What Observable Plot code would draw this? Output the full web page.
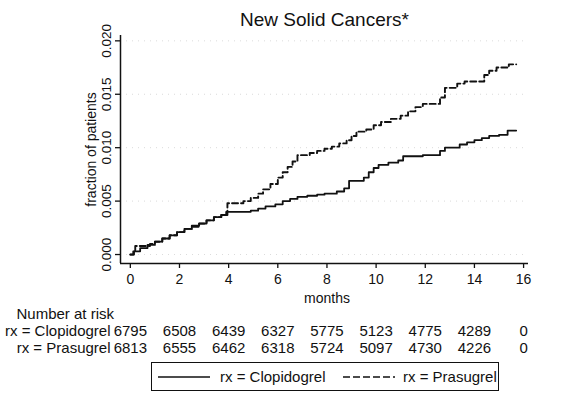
<!DOCTYPE html>
<html><head><meta charset="utf-8">
<script src="https://cdn.jsdelivr.net/npm/d3@7"></script>
<script src="https://cdn.jsdelivr.net/npm/@observablehq/plot@0.6"></script>
<style>
body{margin:0;background:#fff;font-family:"Liberation Sans",Arial,sans-serif;}
#wrap{position:relative;width:573px;height:398px;overflow:hidden;}
#legend{position:absolute;left:151px;top:362px;width:346px;height:27px;border:1.5px solid #111;font-size:15px;color:#111;}
#legend .it{position:absolute;top:0;height:27px;line-height:27px;white-space:nowrap;}
#legend svg{position:absolute;top:0;}
</style>
</head><body>
<div id="wrap"><div id="chart"></div><div id="legend"></div></div>
<script>
const title = "New Solid Cancers*";
const seriesNames = ["rx = Clopidogrel", "rx = Prasugrel"];
const xTicks = [0, 2, 4, 6, 8, 10, 12, 14, 16];
const yTicks = [0, 0.005, 0.010, 0.015, 0.020];
const riskMonths = [0, 2, 4, 6, 8, 10, 12, 14, 16];
const riskClop = [6795, 6508, 6439, 6327, 5775, 5123, 4775, 4289, 0];
const riskPras = [6813, 6555, 6462, 6318, 5724, 5097, 4730, 4226, 0];

const clopMonths = [0, 0.15, 0.4, 0.7, 1.0, 1.3, 1.6, 1.9, 2.2, 2.5, 2.8, 3.1, 3.4, 3.7, 3.9, 4.9, 5.2, 5.5, 5.9, 6.2, 6.5, 6.8, 7.2, 7.6, 7.9, 8.4, 8.7, 8.9, 9.5, 9.7, 9.9, 10.1, 10.5, 10.9, 11.1, 11.9, 12.6, 12.8, 13.4, 13.7, 14.0, 14.3, 14.6, 15.0, 15.35, 15.7];
const clopRisk = [0, 0.0003, 0.0006, 0.0009, 0.0012, 0.0015, 0.0018, 0.0021, 0.0024, 0.0027, 0.0029, 0.0032, 0.0035, 0.0037, 0.0040, 0.0041, 0.0043, 0.0045, 0.0047, 0.0050, 0.0052, 0.0054, 0.0055, 0.0056, 0.0057, 0.0059, 0.0062, 0.0069, 0.0072, 0.0077, 0.0081, 0.0084, 0.0086, 0.0088, 0.0092, 0.0093, 0.0097, 0.0100, 0.0103, 0.0105, 0.0107, 0.0109, 0.0111, 0.0112, 0.0116, 0.0116];

const prasMonths = [0, 0.12, 0.2, 0.5, 0.8, 1.0, 1.3, 1.6, 1.9, 2.2, 2.5, 2.8, 3.1, 3.4, 3.7, 3.95, 4.6, 4.9, 5.2, 5.4, 5.7, 6.0, 6.2, 6.4, 6.6, 6.8, 7.3, 7.6, 7.9, 8.2, 8.5, 8.8, 9.0, 9.2, 9.6, 9.9, 10.2, 10.6, 11.0, 11.3, 11.6, 11.9, 12.6, 12.8, 13.3, 13.6, 14.4, 14.6, 14.9, 15.4, 15.7];
const prasRisk = [0, 0.0004, 0.0008, 0.0008, 0.0010, 0.0012, 0.0015, 0.0018, 0.0021, 0.0024, 0.0026, 0.0029, 0.0032, 0.0035, 0.0037, 0.0048, 0.0050, 0.0053, 0.0057, 0.0061, 0.0066, 0.0072, 0.0077, 0.0082, 0.0087, 0.0093, 0.0095, 0.0097, 0.0099, 0.0101, 0.0104, 0.0107, 0.0111, 0.0115, 0.0117, 0.0121, 0.0124, 0.0127, 0.0130, 0.0134, 0.0138, 0.0141, 0.0147, 0.0156, 0.0160, 0.0162, 0.0168, 0.0172, 0.0175, 0.0178, 0.0178];

const clop = clopMonths.map((m, i) => ({m, v: clopRisk[i]}));
const pras = prasMonths.map((m, i) => ({m, v: prasRisk[i]}));
const xDom = [-0.4, 16.2];
const yDom = [-0.00084, 0.0205];
const ink = "#111";
const fmt = d3.format(".3f");

const rowClop = riskMonths.map((m, i) => ({m, t: String(riskClop[i])}));
const rowPras = riskMonths.map((m, i) => ({m, t: String(riskPras[i])}));

const chart = Plot.plot({
  width: 573, height: 360,
  marginLeft: 120, marginRight: 45, marginTop: 35, marginBottom: 97,
  style: {fontFamily: '"Liberation Sans", Arial, sans-serif', fontSize: "14px", color: ink, background: "#fff"},
  x: {domain: xDom},
  y: {domain: yDom},
  marks: [
    Plot.gridY(yTicks, {stroke: "#999", strokeOpacity: 0.35, strokeDasharray: "1,5"}),
    Plot.ruleX([xDom[0]], {stroke: ink, strokeWidth: 1.5}),
    Plot.ruleY([yDom[0]], {stroke: ink, strokeWidth: 1.5}),
    Plot.axisX({ticks: xTicks, tickSize: 5, tickPadding: 6, label: null, fontSize: 14, stroke: ink, strokeWidth: 1.3}),
    Plot.axisY({ticks: yTicks, tickSize: 5, tickFormat: () => "", label: null, stroke: ink, strokeWidth: 1.3}),
    Plot.text(yTicks, {y: d => d, text: d => fmt(d), frameAnchor: "left", dx: -10, rotate: -90, textAnchor: "middle", lineAnchor: "bottom", fontSize: 13.5, fill: ink}),
    Plot.text(["fraction of patients"], {frameAnchor: "left", dx: -25, rotate: -90, textAnchor: "middle", lineAnchor: "bottom", fontSize: 14, fill: ink}),
    Plot.text(["months"], {x: () => 8, frameAnchor: "bottom", dy: 35, lineAnchor: "middle", fontSize: 14, fill: ink}),
    Plot.text([title], {frameAnchor: "top", dy: -16, lineAnchor: "middle", fontSize: 19, fill: ink}),
    Plot.line(clop, {x: "m", y: "v", curve: "step-after", stroke: ink, strokeWidth: 1.8}),
    Plot.line(pras, {x: "m", y: "v", curve: "step-after", stroke: ink, strokeWidth: 1.9, strokeDasharray: "6,3"}),
    Plot.text(["Number at risk"], {frameAnchor: "bottom-left", dx: -104, dy: 51, textAnchor: "start", lineAnchor: "middle", fontSize: 15, fill: ink}),
    Plot.text([seriesNames[0]], {frameAnchor: "bottom-left", dx: -10, dy: 68, textAnchor: "end", lineAnchor: "middle", fontSize: 15, fill: ink}),
    Plot.text([seriesNames[1]], {frameAnchor: "bottom-left", dx: -10, dy: 85, textAnchor: "end", lineAnchor: "middle", fontSize: 15, fill: ink}),
    Plot.text(rowClop, {x: "m", text: "t", frameAnchor: "bottom", dy: 68, lineAnchor: "middle", fontSize: 15, fill: ink}),
    Plot.text(rowPras, {x: "m", text: "t", frameAnchor: "bottom", dy: 85, lineAnchor: "middle", fontSize: 15, fill: ink})
  ]
});
document.getElementById("chart").appendChild(chart);

const lg = document.getElementById("legend");
const NS = "http://www.w3.org/2000/svg";
function sample(left, dash) {
  const s = document.createElementNS(NS, "svg");
  s.setAttribute("width", 52); s.setAttribute("height", 27);
  s.style.left = left + "px";
  const l = document.createElementNS(NS, "line");
  l.setAttribute("x1", 0); l.setAttribute("x2", 52);
  l.setAttribute("y1", 14); l.setAttribute("y2", 14);
  l.setAttribute("stroke", ink); l.setAttribute("stroke-width", 1.6);
  if (dash) l.setAttribute("stroke-dasharray", dash);
  s.appendChild(l);
  lg.appendChild(s);
}
function label(left, t) {
  const d = document.createElement("div");
  d.className = "it"; d.style.left = left + "px"; d.textContent = t;
  lg.appendChild(d);
}
sample(6, null); label(68, seriesNames[0]);
sample(191, "7,3"); label(251, seriesNames[1]);
</script>
</body></html>
